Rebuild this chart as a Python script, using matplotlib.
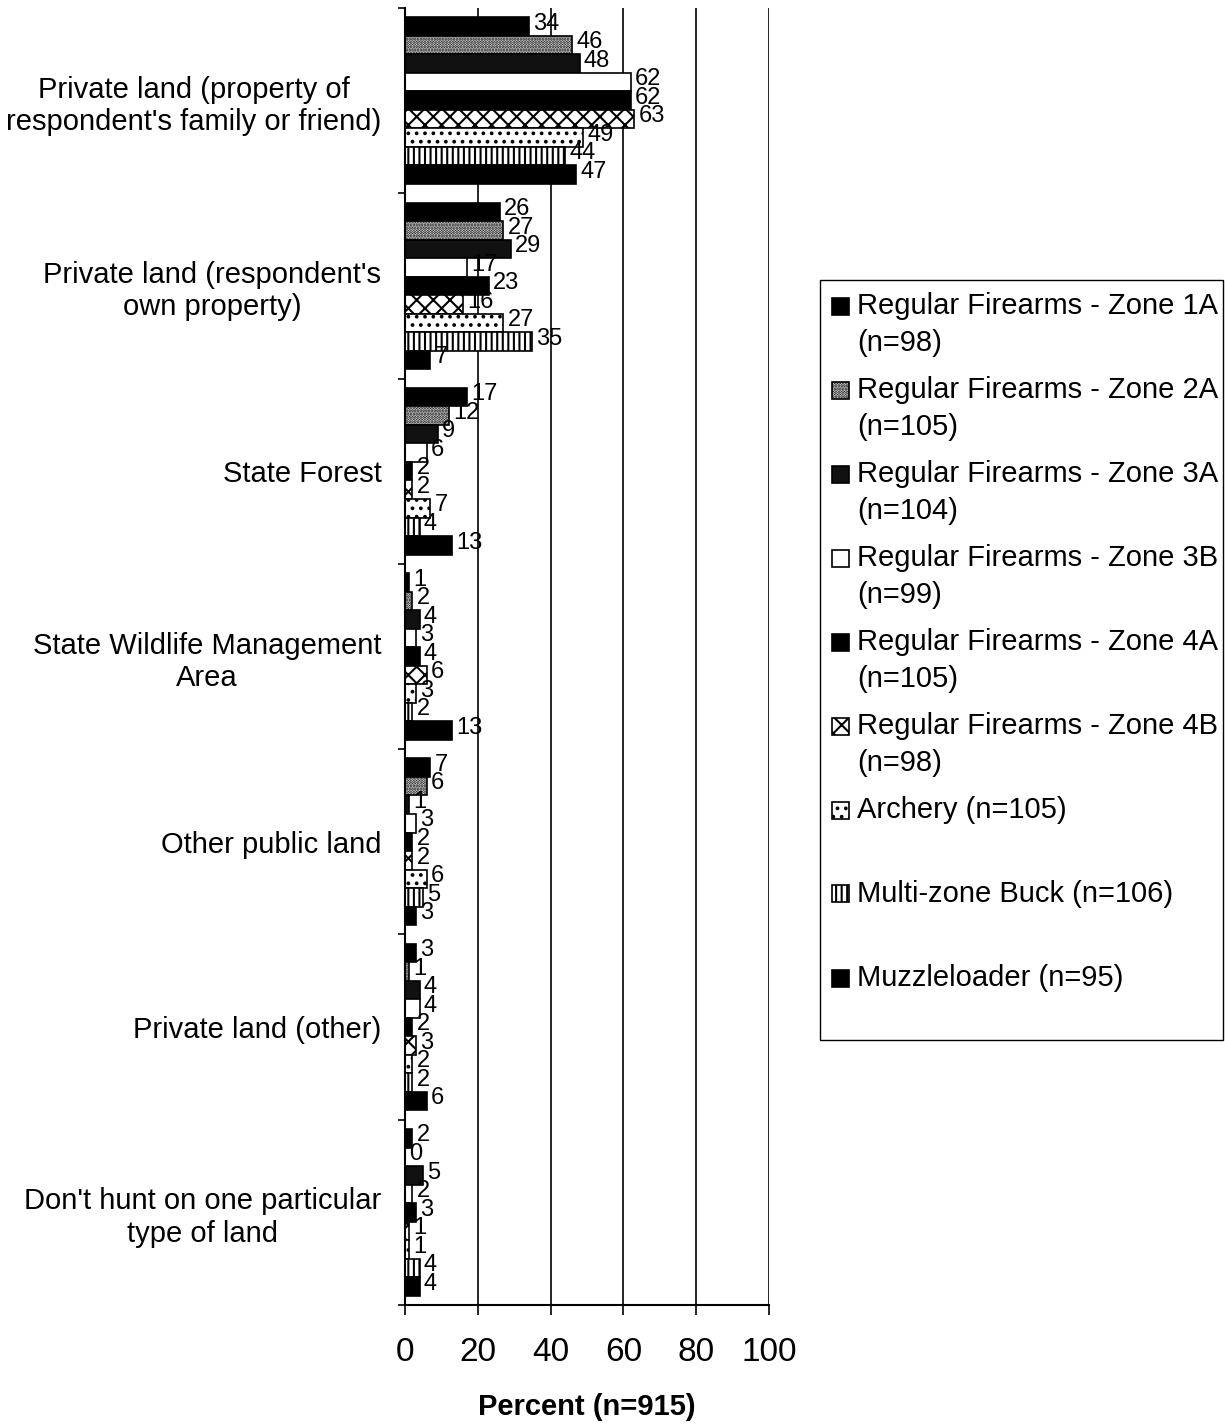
import matplotlib
matplotlib.use("Agg")
import matplotlib.pyplot as plt
from matplotlib.patches import Rectangle
from matplotlib import font_manager
import numpy as np

# ---- data -------------------------------------------------------------
categories = [
    "Private land (property of\nrespondent's family or friend)",
    "Private land (respondent's\nown property)",
    "State Forest",
    "State Wildlife Management\nArea",
    "Other public land",
    "Private land (other)",
    "Don't hunt on one particular\ntype of land",
]

zone_1a = [34, 26, 17, 1, 7, 3, 2]
zone_2a = [46, 27, 12, 2, 6, 1, 0]
zone_3a = [48, 29, 9, 4, 1, 4, 5]
zone_3b = [62, 17, 6, 3, 3, 4, 2]
zone_4a = [62, 23, 2, 4, 2, 2, 3]
zone_4b = [63, 16, 2, 6, 2, 3, 1]
archery = [49, 27, 7, 3, 6, 2, 1]
multi_zone_buck = [44, 35, 4, 2, 5, 2, 4]
muzzleloader = [47, 7, 13, 13, 3, 6, 4]

series_labels = [
    ["Regular Firearms - Zone 1A", "(n=98)"],
    ["Regular Firearms - Zone 2A", "(n=105)"],
    ["Regular Firearms - Zone 3A", "(n=104)"],
    ["Regular Firearms - Zone 3B", "(n=99)"],
    ["Regular Firearms - Zone 4A", "(n=105)"],
    ["Regular Firearms - Zone 4B", "(n=98)"],
    ["Archery (n=105)"],
    ["Multi-zone Buck (n=106)"],
    ["Muzzleloader (n=95)"],
]

x_ticks = [0, 20, 40, 60, 80, 100]
x_label = "Percent (n=915)"

series_values = [zone_1a, zone_2a, zone_3a, zone_3b, zone_4a, zone_4b,
                 archery, multi_zone_buck, muzzleloader]

# fill / hatch style of each series
styles = [
    dict(facecolor="black", hatch=None),
    dict(facecolor="white", hatch="......"),
    dict(facecolor="#111111", hatch=None),
    dict(facecolor="white", hatch=None),
    dict(facecolor="black", hatch=None),
    dict(facecolor="white", hatch="xx"),
    dict(facecolor="white", hatch=".."),
    dict(facecolor="white", hatch="|||"),
    dict(facecolor="black", hatch=None),
]

# ---- fonts ------------------------------------------------------------
available = {f.name for f in font_manager.fontManager.ttflist}
family = ["Liberation Sans" if "Liberation Sans" in available else "DejaVu Sans",
          "DejaVu Sans"]
plt.rcParams["font.family"] = family
plt.rcParams["hatch.linewidth"] = 1.5

W, H = 1225, 1424
fig = plt.figure(figsize=(W / 100, H / 100), dpi=100)


def fx(px):
    return px / W


def fy(py):
    return 1 - py / H


ax = fig.add_axes([fx(405), fy(1305), fx(769) - fx(405), fy(8) - fy(1305)])

n_series = len(series_values)
bar_h = 0.1
y_base = np.arange(len(categories))

for j, (vals, st) in enumerate(zip(series_values, styles)):
    ypos = y_base + (j - (n_series - 1) / 2) * bar_h
    ax.barh(ypos, vals, height=bar_h, facecolor=st["facecolor"],
            hatch=st["hatch"], edgecolor="black", linewidth=1.2, zorder=3)
    for yy, v in zip(ypos, vals):
        ax.annotate(f"{v}", xy=(v, yy), xytext=(3, 2),
                    textcoords="offset points", ha="left", va="center",
                    fontsize=17, zorder=4)

ax.set_xlim(0, 100)
ax.set_ylim(len(categories) - 0.5, -0.5)

ax.set_xticks(x_ticks)
ax.set_xticklabels([str(t) for t in x_ticks], fontsize=24)
ax.tick_params(axis="x", direction="out", length=7, width=1.2, pad=16)
ax.set_xlabel(x_label, fontsize=21, fontweight="bold", labelpad=18)

ax.set_yticks(y_base)
ax.set_yticklabels(categories, fontsize=21)
for lab in ax.get_yticklabels():
    lab.set_multialignment("center")
ax.tick_params(axis="y", which="major", length=0, pad=17)
ax.set_yticks(np.arange(-0.5, len(categories), 1.0), minor=True)
ax.tick_params(axis="y", which="minor", direction="out", length=5, width=1.2)

for v in x_ticks[1:]:
    ax.axvline(v, color="black", linewidth=1.2, zorder=1)

ax.spines["top"].set_visible(False)
ax.spines["right"].set_visible(False)
ax.spines["left"].set_linewidth(1.5)
ax.spines["bottom"].set_linewidth(1.5)
ax.spines["left"].set_zorder(5)

# ---- legend -----------------------------------------------------------
fig.patches.append(Rectangle((fx(820), fy(1040)), fx(1223) - fx(820),
                             fy(280) - fy(1040), transform=fig.transFigure,
                             facecolor="none", edgecolor="black",
                             linewidth=1.0))
row_y = 306
for lines, st in zip(series_labels, styles):
    size = 17
    fig.patches.append(Rectangle((fx(832), fy(row_y + size / 2)), fx(size),
                                 size / H, transform=fig.transFigure,
                                 facecolor=st["facecolor"], hatch=st["hatch"],
                                 edgecolor="black", linewidth=1.2))
    for k, line in enumerate(lines):
        fig.text(fx(857), fy(row_y + 37 * k), line, fontsize=21,
                 ha="left", va="center")
    row_y += 84

fig.savefig("out.png", dpi=100)
